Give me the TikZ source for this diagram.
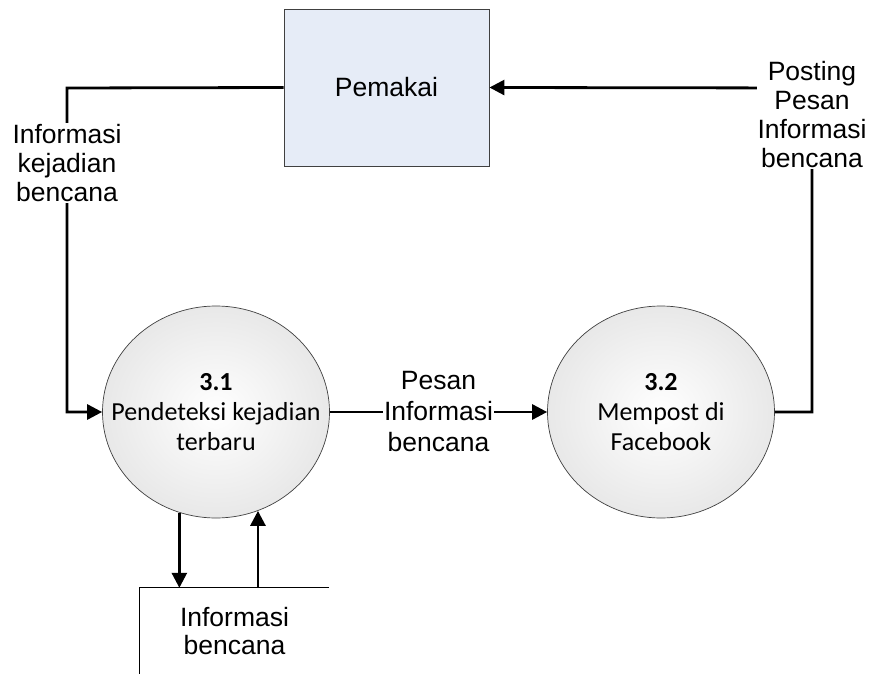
\documentclass[tikz,border=0pt]{standalone}
\usepackage{fontspec}
\setmainfont{Liberation Sans}
\newfontfamily\calibri{Carlito}
\usetikzlibrary{shapes.geometric, arrows.meta, positioning, calc}
\definecolor{userblue}{RGB}{230,236,247}
\definecolor{edgegray}{RGB}{64,64,64}

\begin{document}
\begin{tikzpicture}[
    x=1pt, y=-1pt,
    entity/.style={rectangle, draw=edgegray, fill=userblue, line width=0.9pt, minimum width=205pt, minimum height=157pt, font=\fontsize{26.5}{30}\selectfont},
    proc/.style={ellipse, draw=edgegray, line width=0.7pt, inner color=white, outer color=black!9, minimum width=227pt, minimum height=212pt, align=center, inner xsep=-27pt, inner ysep=0pt, font=\calibri\fontsize{26}{30}\selectfont},
    lbl/.style={fill=white, align=center, inner sep=1pt, font=\fontsize{26.5}{29}\selectfont},
    store/.style={rectangle, minimum width=189pt, minimum height=86pt, align=center, font=\fontsize{26.5}{28.5}\selectfont},
    flow/.style={-{Triangle[length=15pt, width=15pt]}, line width=2.8pt}
]
\useasboundingbox (0,0) rectangle (871,674);

% External entity and processes
\node[entity] (user) at (386.5, 87.5) {Pemakai};
\node[proc] (p31) at (216, 412) {\textbf{3.1}\\Pendeteksi kejadian\\terbaru};
\node[proc] (p32) at (661, 412) {\textbf{3.2}\\Mempost di\\Facebook};

% Data store (open rectangle)
\node[store] (db) at (234.5, 631) {Informasi\\bencana};
\draw[line width=0.9pt] (db.north east) -- (db.north west) -- (db.south west);

% Corner points of the outer flows
\coordinate (lk) at (67, 88);
\coordinate (rk) at (812, 88);

% Flows
\draw[flow] (user.west) -- (lk) |- (p31.west);
\draw[flow] (p32.east) -| (rk) -- (user.east);
\draw[flow] (p31.east) -- node[lbl, font=\fontsize{26.5}{31}\selectfont] (msg) {Pesan\\Informasi\\bencana} (p32.west);
\draw[flow] (p31.-110) -- (p31.-110 |- db.north);
\draw[flow] (db.north -| p31.-67) -- (p31.-67);

% Flow labels
\node[lbl] (info) at (67, 163) {Informasi\\kejadian\\bencana};
\node[lbl] (post) at (812, 115) {Posting\\Pesan\\Informasi\\bencana};

\end{tikzpicture}
\end{document}
